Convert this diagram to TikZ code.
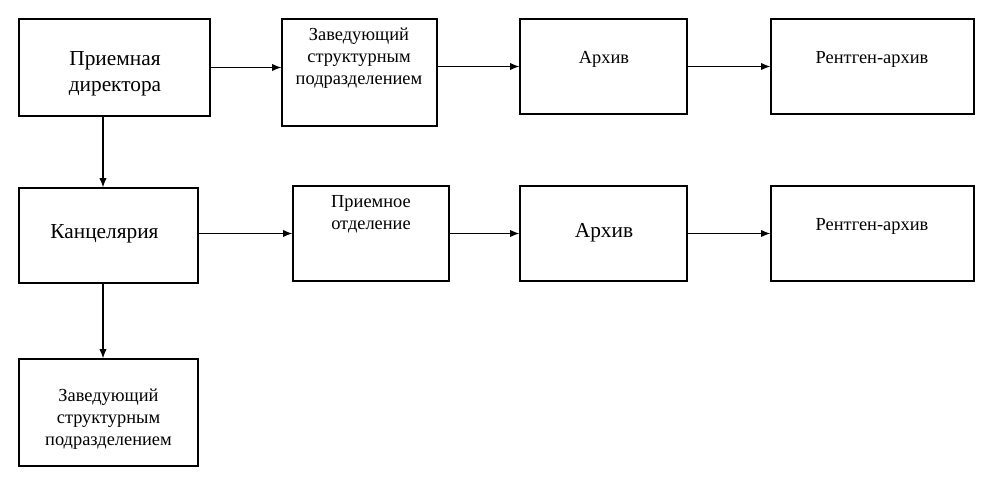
\documentclass[tikz,border=0pt]{standalone}
\usepackage{fontspec}
\setmainfont{Liberation Serif}
\usetikzlibrary{arrows.meta}
\begin{document}
\begin{tikzpicture}[x=0.75pt, y=-0.75pt, line width=0.9pt,
  box/.style={draw, rectangle, inner sep=0pt},
  lbl/.style={align=center, inner sep=0pt, font=\fontsize{13.8}{16.5}\selectfont},
  big/.style={align=center, inner sep=0pt, font=\fontsize{16}{19.5}\selectfont},
  arr/.style={-{Latex[length=7pt, width=5.5pt]}}]
  \useasboundingbox (0,0) rectangle (1000,482);
  \coordinate (vx) at (103,0);
  \coordinate (ry) at (0,67.5);
  % upper row
  \node[box, minimum width=143.25pt, minimum height=72.75pt] (a1) at (114.5,67.5) {};
  \node[box, minimum width=116.25pt, minimum height=80.25pt] (a2) at (359.5,72.5) {};
  \node[box, minimum width=125.25pt, minimum height=71.25pt] (a3) at (603.5,66.5) {};
  \node[box, minimum width=152.25pt, minimum height=71.25pt] (a4) at (872.5,66.5) {};
  \node[big] (a1t) at (115,74) {Приемная\\директора};
  \node[lbl] (a2t) at (359,58) {Заведующий\\структурным\\подразделением};
  \node[lbl] (a3t) at (604,59) {Архив};
  \node[lbl] (a4t) at (872,59) {Рентген-архив};
  % lower row
  \node[box, minimum width=134.25pt, minimum height=71.25pt] (b1) at (108.5,235.5) {};
  \node[box, minimum width=117pt, minimum height=71.25pt] (b2) at (371,233.5) {};
  \node[box, minimum width=125.25pt, minimum height=71.25pt] (b3) at (603.5,233.5) {};
  \node[box, minimum width=152.25pt, minimum height=71.25pt] (b4) at (872.5,233.5) {};
  \node[big] (b1t) at (104.5,234) {Канцелярия};
  \node[lbl] (b2t) at (371,214) {Приемное\\отделение};
  \node[big] (b3t) at (604,233) {Архив};
  \node[lbl] (b4t) at (872,226) {Рентген-архив};
  % bottom
  \node[box, minimum width=134.25pt, minimum height=80.25pt] (c1) at (108.5,412.5) {};
  \node[lbl] (c1t) at (108.5,419) {Заведующий\\структурным\\подразделением};
  % arrows
  \draw[arr] (a1.east |- ry) -- (a2.west |- ry);
  \draw[arr] (a3.west -| a2.east) -- (a3.west);
  \draw[arr] (a3.east) -- (a4.west);
  \draw[arr] (b1.east |- b2.west) -- (b2.west);
  \draw[arr] (b2.east) -- (b3.west);
  \draw[arr] (b3.east) -- (b4.west);
  \draw[arr] (a1.south -| vx) -- (b1.north -| vx);
  \draw[arr] (b1.south -| vx) -- (c1.north -| vx);
\end{tikzpicture}
\end{document}
